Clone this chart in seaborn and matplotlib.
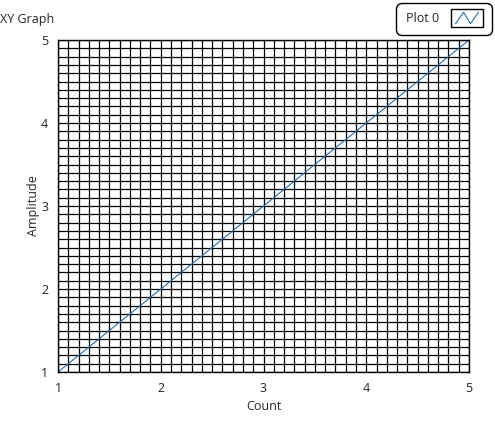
import numpy as np
import pandas as pd
import matplotlib
matplotlib.use("Agg")
import matplotlib.pyplot as plt
import seaborn as sns
from matplotlib.legend_handler import HandlerBase
from matplotlib.patches import Rectangle
from matplotlib.lines import Line2D
from matplotlib.ticker import MultipleLocator

# data
count = [1, 2, 3, 4, 5]
amplitude = [1, 2, 3, 4, 5]
series_name = "Plot 0"

df = pd.DataFrame({"Count": count, "Amplitude": amplitude})

sns.set_style("white")
plt.rcParams["font.family"] = ["Open Sans", "DejaVu Sans"]
plt.rcParams["font.size"] = 9

line_color = "#1f6db4"


# legend icon: box with zigzag like the LabVIEW plot legend
class BoxZigzagHandler(HandlerBase):
    def create_artists(self, legend, orig_handle, xdescent, ydescent,
                       width, height, fontsize, trans):
        box = Rectangle((-xdescent, -ydescent - 3.5), width, height + 7,
                        facecolor="white", edgecolor="black", lw=1.0,
                        transform=trans)
        x0 = -xdescent + 3
        w = width - 6
        y0 = -ydescent - 1
        h = height + 2
        zx = [x0, x0 + w * 0.35, x0 + w * 0.65, x0 + w]
        zy = [y0, y0 + h, y0, y0 + h]
        zig = Line2D(zx, zy, color=line_color, lw=0.8, transform=trans)
        return [box, zig]


fig = plt.figure(figsize=(4.95, 4.26), dpi=100)
ax = fig.add_axes([58 / 495, 54 / 426, 411 / 495, 332 / 426])

sns.lineplot(data=df, x="Count", y="Amplitude", ax=ax, color=line_color,
             lw=0.8, label=series_name)

ax.set_xlim(1, 5)
ax.set_ylim(1, 5)
ax.xaxis.set_major_locator(MultipleLocator(1))
ax.yaxis.set_major_locator(MultipleLocator(1))
ax.xaxis.set_minor_locator(MultipleLocator(0.1))
ax.yaxis.set_minor_locator(MultipleLocator(0.1))
ax.grid(True, which="both", color="black", lw=0.9)
ax.set_axisbelow(True)
ax.tick_params(which="major", direction="out", length=4, width=1,
               color="black", pad=3, labelsize=9)
ax.tick_params(which="minor", length=0)
for s in ax.spines.values():
    s.set_color("black")
    s.set_linewidth(1)

ax.set_xlabel("Count", fontsize=9, labelpad=4)
ax.set_ylabel("Amplitude", fontsize=9, labelpad=1)

fig.text(0.0, 1 - 19 / 426, "XY Graph", fontsize=9, ha="left", va="center")

handle = Line2D([], [], color=line_color)
leg = ax.legend([handle], [series_name], handler_map={Line2D: BoxZigzagHandler()},
                loc="upper right", bbox_to_anchor=(492 / 495, 1 - 3 / 426),
                bbox_transform=fig.transFigure, markerfirst=False,
                fancybox=True, frameon=True, edgecolor="black",
                fontsize=9, handlelength=2.5, handletextpad=1.0,
                borderpad=0.75, borderaxespad=0)
leg.get_frame().set_linewidth(1)
leg.get_frame().set_alpha(1)
leg.get_frame().set_boxstyle("round,pad=0,rounding_size=0.45")
leg.set_zorder(5)

fig.savefig("out.png", dpi=100)
